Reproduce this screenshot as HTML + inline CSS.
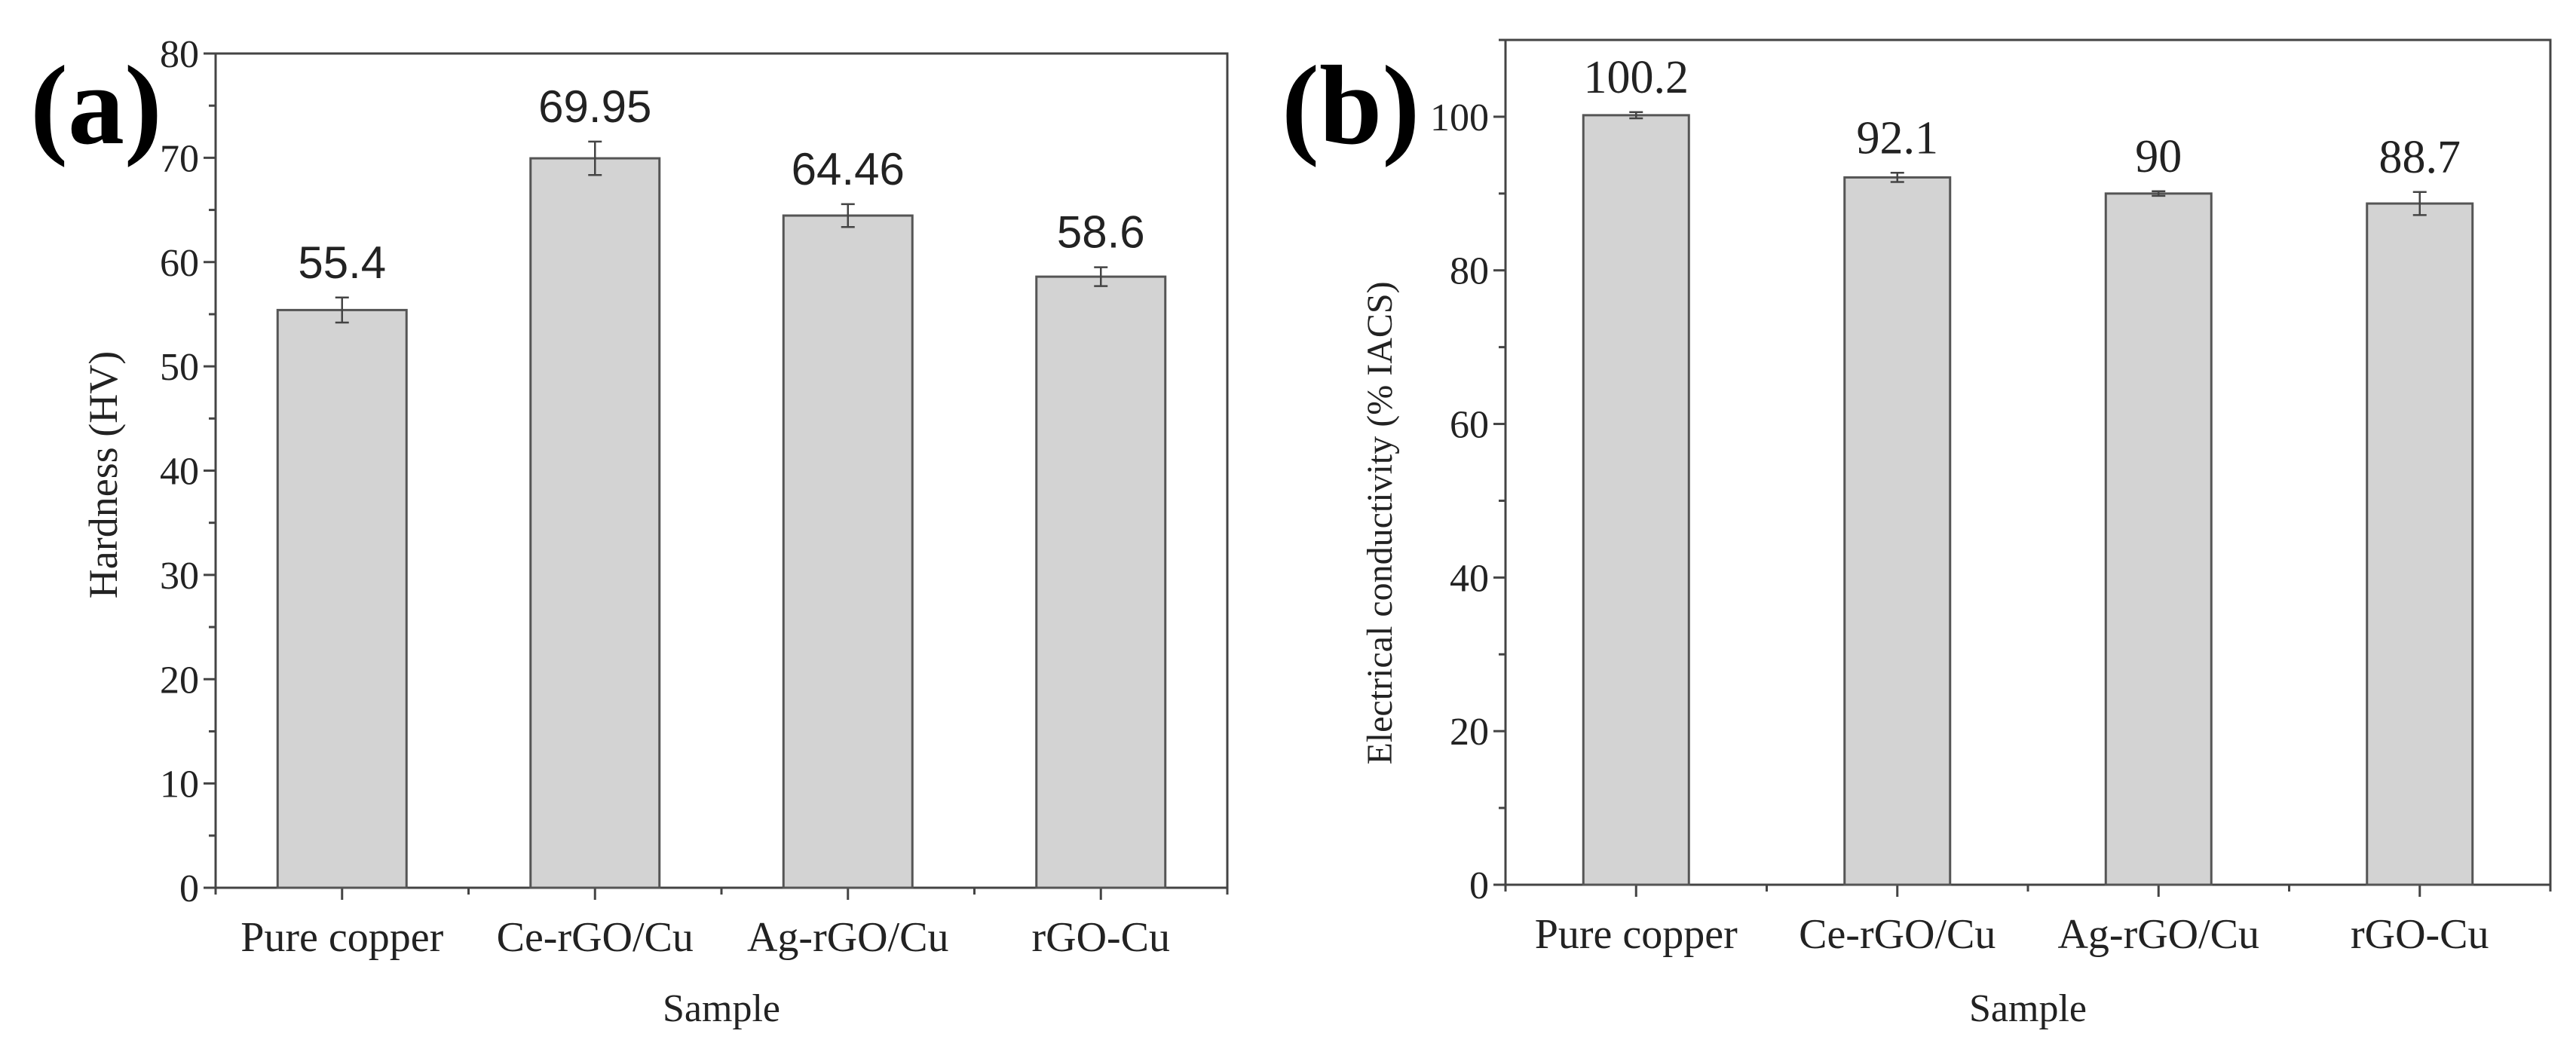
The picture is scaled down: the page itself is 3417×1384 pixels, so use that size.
<!DOCTYPE html>
<html><head><meta charset="utf-8"><style>body{margin:0;background:#fff}svg{display:block}</style></head>
<body>
<svg id="chart" width="3417" height="1384" viewBox="0 0 3417 1384" xmlns="http://www.w3.org/2000/svg"></svg>
<script>
const categories = ["Pure copper","Ce-rGO/Cu","Ag-rGO/Cu","rGO-Cu"];
const hardnessValues = [55.4,69.95,64.46,58.6];
const hardnessErrors = [1.2,1.6,1.1,0.9];
const hardnessLabels = ["55.4","69.95","64.46","58.6"];
const hardnessTicks = [0,10,20,30,40,50,60,70,80];
const condValues = [100.2,92.1,90,88.7];
const condErrors = [0.4,0.6,0.3,1.5];
const condLabels = ["100.2","92.1","90","88.7"];
const condTicks = [0,20,40,60,80,100];

const NS="http://www.w3.org/2000/svg";
const svg=document.getElementById('chart');
function mk(tag,attrs,parent,text){const e=document.createElementNS(NS,tag);for(const k in attrs)e.setAttribute(k,attrs[k]);if(text!==undefined)e.textContent=text;(parent||svg).appendChild(e);return e;}
const serif='"Liberation Serif", serif', sans='"Liberation Sans", sans-serif';

function panel(cfg){
  const g=mk('g',{});
  
  
  const y=v=>cfg.bottom-(v-cfg.ymin)/(cfg.ymax-cfg.ymin)*(cfg.bottom-cfg.top);
  const step=(cfg.right-cfg.left)/categories.length;
  const x=i=>cfg.left+step*(i+0.5);
  const frame=mk('rect',{x:cfg.left,y:cfg.top,width:cfg.right-cfg.left,height:cfg.bottom-cfg.top,fill:'none',stroke:'#444','stroke-width':3},g);
  
  
  const minorStep=(cfg.ticks[1]-cfg.ticks[0])/2;
  for(let v=cfg.ymin;v<=cfg.ymax+1e-9;v+=minorStep){
    const isMajor=cfg.ticks.some(t=>Math.abs(t-v)<1e-9);
    mk('line',{x1:cfg.left,x2:cfg.left-(isMajor?16:9),y1:y(v),y2:y(v),stroke:'#444','stroke-width':3},g);
  }
  cfg.ticks.forEach(t=>{
    const tl=mk('text',{x:cfg.left-22,y:y(t)+18,'text-anchor':'end','font-family':serif,'font-size':52,fill:'#222'},g,String(t));
    
    
  });
  for(let i=0;i<=categories.length;i++){
    mk('line',{x1:cfg.left+step*i,x2:cfg.left+step*i,y1:cfg.bottom,y2:cfg.bottom+9,stroke:'#444','stroke-width':3},g);
  }
  categories.forEach((c,i)=>{
    mk('line',{x1:x(i),x2:x(i),y1:cfg.bottom,y2:cfg.bottom+16,stroke:'#444','stroke-width':3},g);
    const tl=mk('text',{x:x(i),y:cfg.bottom+84,'text-anchor':'middle','font-family':serif,'font-size':56,fill:'#222'},g,c);
    
    
    const v=cfg.values[i],e=cfg.errors[i];
    const b=mk('rect',{x:x(i)-cfg.barW/2,y:y(v),width:cfg.barW,height:cfg.bottom-y(v),fill:'#d3d3d3',stroke:'#555','stroke-width':3},g);
    
    
    const eb=mk('g',{stroke:'#444','stroke-width':2.5},g);
    
    
    mk('line',{x1:x(i),x2:x(i),y1:y(v+e),y2:y(v-e)},eb);
    mk('line',{x1:x(i)-9,x2:x(i)+9,y1:y(v+e),y2:y(v+e)},eb);
    mk('line',{x1:x(i)-9,x2:x(i)+9,y1:y(v-e),y2:y(v-e)},eb);
    const vl=mk('text',{x:x(i),y:y(v+e)-26,'text-anchor':'middle','font-family':cfg.valFont,'font-size':cfg.valSize,fill:'#222'},g,cfg.labels[i]);
    
    
  });
  const xt=mk('text',{x:(cfg.left+cfg.right)/2,y:1355,'text-anchor':'middle','font-family':serif,'font-size':52,fill:'#222'},g,'Sample');
  
  
  const yt=mk('text',{x:0,y:0,'text-anchor':'middle','font-family':serif,'font-size':cfg.ytSize,fill:'#222',transform:`translate(${cfg.ytx},${cfg.yty}) rotate(-90)`},g,cfg.ytitle);
  
  
  const pl=mk('text',{x:cfg.plx,y:190,'font-family':serif,'font-weight':'bold','font-size':150,fill:'#000'},g,cfg.plabel);
  
  
}
panel({name:'hardness-chart',left:286,right:1628,top:71,bottom:1178,ymin:0,ymax:80,ticks:hardnessTicks,values:hardnessValues,errors:hardnessErrors,labels:hardnessLabels,barW:171,valFont:sans,valSize:60,ytitle:'Hardness (HV)',ytx:155,yty:630,ytSize:54,plabel:'(a)',plx:40});
panel({name:'conductivity-chart',left:1997,right:3383,top:53,bottom:1174,ymin:0,ymax:110,ticks:condTicks,values:condValues,errors:condErrors,labels:condLabels,barW:140,valFont:serif,valSize:62,ytitle:'Electrical conductivity (% IACS)',ytx:1846,yty:694,ytSize:48,plabel:'(b)',plx:1700});
</script>
</body></html>
